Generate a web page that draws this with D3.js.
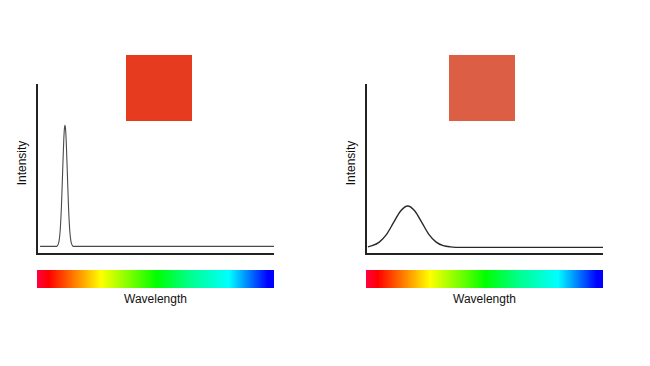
<!DOCTYPE html>
<html><head><meta charset="utf-8">
<script src="https://cdn.jsdelivr.net/npm/d3@7"></script>
<style>body{margin:0;background:#fff}svg{display:block}</style>
</head><body>
<script>
// Panel data (x: wavelength position 0-100 along axis, y: intensity 0-100)
const panelNames = ["narrow", "broad"];
const swatchColors = ["#e63b1e", "#db5e45"];
const narrowX = [1.3, 8.3, 8.8, 9.3, 9.8, 10.3, 10.8, 11.3, 11.55, 11.8, 12.05, 12.3, 12.8, 13.3, 13.8, 14.3, 14.8, 15.3, 100];
const narrowY = [4.5, 4.5, 5.3, 7.6, 14.1, 27.6, 47.7, 67.3, 73.5, 75.7, 73.5, 67.3, 47.7, 27.6, 14.1, 7.6, 5.3, 4.5, 4.5];
const broadX = [0.8, 2.6, 5.6, 8.6, 11.6, 14.6, 17.6, 20.6, 23.6, 26.6, 29.6, 32.6, 35.6, 40, 100];
const broadY = [4.2, 4.9, 7.0, 11.4, 18.4, 25.3, 28.2, 25.3, 18.4, 11.4, 7.0, 4.9, 4.2, 3.9, 3.9];
const xLabel = "Wavelength";
const yLabel = "Intensity";
const spectrumOffsets = [0, 0.05, 0.27, 0.505, 0.64, 0.81, 0.975, 1];
const spectrumColors = ["#ff0040", "#ff0000", "#ffff00", "#00ff00", "#00ff88", "#00ffff", "#0000ff", "#0000ff"];

const W = 650, H = 366;
const svg = d3.select("body").append("svg").attr("width", W).attr("height", H);
const defs = svg.append("defs");
const grad = defs.append("linearGradient").attr("id", "spec").attr("x1", "0%").attr("x2", "100%").attr("y1", "0%").attr("y2", "0%");
spectrumOffsets.forEach((o, i) => grad.append("stop").attr("offset", o).attr("stop-color", spectrumColors[i]));

const series = [narrowX.map((x, i) => [x, narrowY[i]]), broadX.map((x, i) => [x, broadY[i]])];
const panels = [{x0: 37, x1: 274}, {x0: 366, x1: 603}];
const plotTop = 84, plotBottom = 254;

panels.forEach((p, k) => {
  const g = svg.append("g");
  const x = d3.scaleLinear().domain([0, 100]).range([p.x0, p.x1]);
  const y = d3.scaleLinear().domain([0, 100]).range([plotBottom, plotTop]);
  // swatch
  const cx = k === 0 ? 159 : 482;
  g.append("rect").attr("x", cx - 33).attr("y", 55).attr("width", 66).attr("height", 66).attr("fill", swatchColors[k]);
  // curve
  g.append("path").datum(series[k])
    .attr("d", d3.line().x(d => x(d[0])).y(d => y(d[1])).curve(d3.curveMonotoneX))
    .attr("fill", "none").attr("stroke", k === 0 ? "#4a4a4a" : "#2a2a2a").attr("stroke-width", k === 0 ? 1.1 : 1.4);
  // axes
  const ax = g.append("g").attr("transform", `translate(0,${plotBottom})`).call(d3.axisBottom(x).ticks(0).tickSize(0).tickSizeOuter(0));
  const ay = g.append("g").attr("transform", `translate(${p.x0},0)`).call(d3.axisLeft(y).ticks(0).tickSize(0).tickSizeOuter(0));
  [ax, ay].forEach(a => a.select(".domain").attr("stroke", "#222").attr("stroke-width", 2));
  ay.select(".domain").attr("d", `M0,${plotTop}V${plotBottom + 1}`);
  ax.select(".domain").attr("d", `M${p.x0 - 1},0H${p.x1}`);
  // spectrum bar
  g.append("rect").attr("x", p.x0).attr("y", 270).attr("width", p.x1 - p.x0).attr("height", 18).attr("fill", "url(#spec)");
  // labels
  g.append("text").attr("x", (p.x0 + p.x1) / 2).attr("y", 303).attr("text-anchor", "middle")
    .attr("font-family", "Liberation Sans, Arial, sans-serif").attr("font-size", 12).attr("fill", "#111").text(xLabel);
  g.append("text").attr("transform", `translate(${p.x0 - 11},${163}) rotate(-90)`).attr("text-anchor", "middle")
    .attr("font-family", "Liberation Sans, Arial, sans-serif").attr("font-size", 12).attr("fill", "#111").text(yLabel);
});
</script>
</body></html>
